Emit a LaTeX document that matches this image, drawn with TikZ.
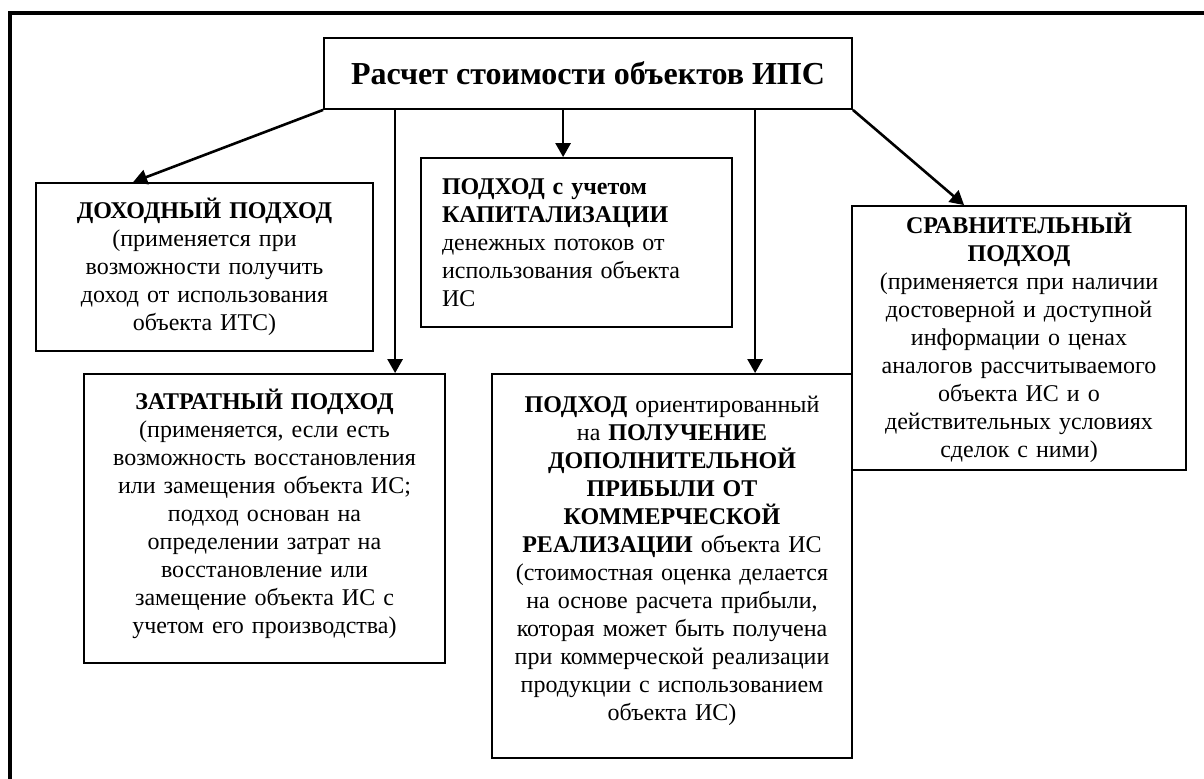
\documentclass[tikz,border=0pt]{standalone}
\usepackage{fontspec}
\setmainfont{Liberation Serif}
\usetikzlibrary{arrows.meta,calc}
\tikzset{
	blok/.style 2 args={draw,line width=0.9pt,align=center,inner xsep=6pt,inner ysep=0pt,
		text width=#1,minimum height=#2,font=\fontsize{12}{14}\selectfont},
	strelka/.style={line width=1.3pt,-{Triangle[length=7pt,width=7.5pt]}},
}
\begin{document}
\begin{tikzpicture}[x=0.5pt,y=-0.5pt]
	\useasboundingbox (0,0) rectangle (1204,778);
	%Ramka
	\draw[line width=2pt] (10,800) |- (1230,13);
	%Zagolovok
	\node[draw,line width=0.9pt,minimum width=264pt,minimum height=35.5pt,inner sep=0pt,
		font=\fontsize{16}{18}\selectfont\bfseries] (raschet) at (588,73.5) {Расчет стоимости объектов ИПС};
	%Dohodnyj
	\node[blok={156.5pt}{84pt}] (dohod) at (204.5,267) {\textbf{ДОХОДНЫЙ ПОДХОД}\\(применяется при\\возможности получить\\доход от использования\\объекта ИТС)};
	%Kapitalizacija
	\node[blok={134.5pt}{84.5pt},align=left,inner xsep=10.5pt] (kap) at (576.5,242.5) {\textbf{ПОДХОД с учетом}\\\textbf{КАПИТАЛИЗАЦИИ}\\денежных потоков от\\использования объекта\\ИС};
	%Zatratnyj
	\node[blok={168.5pt}{144.5pt}] (zatr) at (264.5,518.5) {\textbf{ЗАТРАТНЫЙ ПОДХОД}\\(применяется, если есть\\возможность восстановления\\или замещения объекта ИС;\\подход основан на\\определении затрат на\\восстановление или\\замещение объекта ИС с\\учетом его производства)\\[-7pt]\mbox{}};
	%Poluchenie pribyli
	\node[blok={168pt}{192pt}] (poluch) at (672,566) {\textbf{ПОДХОД} ориентированный\\на \textbf{ПОЛУЧЕНИЕ}\\\textbf{ДОПОЛНИТЕЛЬНОЙ}\\\textbf{ПРИБЫЛИ ОТ}\\\textbf{КОММЕРЧЕСКОЙ}\\\textbf{РЕАЛИЗАЦИИ} объекта ИС\\(стоимостная оценка делается\\на основе расчета прибыли,\\которая может быть получена\\при коммерческой реализации\\продукции с использованием\\объекта ИС)\\[-6pt]\mbox{}};
	%Sravnitelnyj
	\node[blok={155pt}{132pt}] (sravn) at (1019,338) {\textbf{СРАВНИТЕЛЬНЫЙ}\\\textbf{ПОДХОД}\\(применяется при наличии\\достоверной и доступной\\информации о ценах\\аналогов рассчитываемого\\объекта ИС и о\\действительных условиях\\сделок с ними)};
	%Strelki
	\coordinate (r2) at ($(raschet.south west)+(72,0)$);
	\coordinate (r3) at ($(raschet.south west)+(240,0)$);
	\coordinate (r4) at ($(raschet.south west)+(432,0)$);
	\draw[strelka] (raschet.south west) -- ($(dohod.north west)+(98,0)$);
	\draw[strelka] (r2) -- (r2 |- zatr.north);
	\draw[strelka] (r3) -- (r3 |- kap.north);
	\draw[strelka] (r4) -- (r4 |- poluch.north);
	\draw[strelka] (raschet.south east) -- ($(sravn.north west)+(113,0)$);
\end{tikzpicture}
\end{document}
